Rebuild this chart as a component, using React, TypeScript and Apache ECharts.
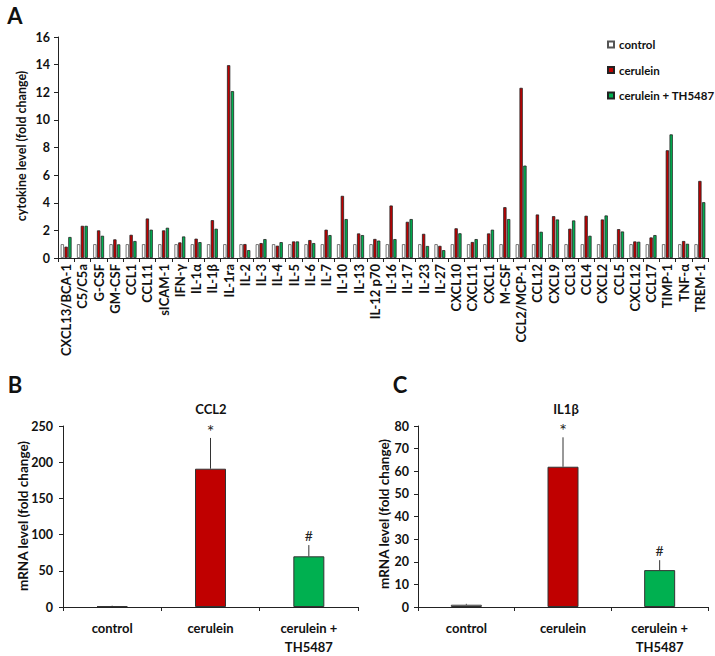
import React, { useEffect, useRef } from 'react';
import * as echarts from 'echarts';

const cytokines = [
  'CXCL13/BCA-1', 'C5/C5a', 'G-CSF', 'GM-CSF', 'CCL1', 'CCL11', 'sICAM-1', 'IFN-γ', 'IL-1α', 'IL-1β',
  'IL-1ra', 'IL-2', 'IL-3', 'IL-4', 'IL-5', 'IL-6', 'IL-7', 'IL-10', 'IL-13', 'IL-12 p70',
  'IL-16', 'IL-17', 'IL-23', 'IL-27', 'CXCL10', 'CXCL11', 'CXCL1', 'M-CSF', 'CCL2/MCP-1', 'CCL12',
  'CXCL9', 'CCL3', 'CCL4', 'CXCL2', 'CCL5', 'CXCL12', 'CCL17', 'TIMP-1', 'TNF-α', 'TREM-1',
];
const controlLevels = [
  1, 1, 1, 1, 1, 1, 1, 1, 1, 1,
  1, 1, 1, 1, 1, 1, 1, 1, 1, 1,
  1, 1, 1, 1, 1, 1, 1, 1, 1, 1,
  1, 1, 1, 1, 1, 1, 1, 1, 1, 1,
];
const ceruleinLevels = [
  0.82, 2.33, 2.0, 1.35, 1.68, 2.86, 2.0, 1.13, 1.4, 2.74,
  13.96, 1.01, 1.08, 0.89, 1.2, 1.3, 2.05, 4.5, 1.78, 1.38,
  3.8, 2.62, 1.75, 0.88, 2.15, 1.16, 1.78, 3.68, 12.32, 3.15,
  3.03, 2.12, 3.06, 2.79, 2.09, 1.2, 1.49, 7.8, 1.23, 5.58,
];
const th5487Levels = [
  1.52, 2.33, 1.61, 0.99, 1.23, 2.05, 2.19, 1.56, 1.15, 2.12,
  12.08, 0.57, 1.37, 1.15, 1.2, 1.08, 1.66, 2.82, 1.66, 1.26,
  1.37, 2.82, 0.87, 0.57, 1.79, 1.37, 2.05, 2.82, 6.69, 1.9,
  2.79, 2.72, 1.61, 3.08, 1.92, 1.18, 1.66, 8.95, 1.03, 4.04,
];
const seriesNames = ['control', 'cerulein', 'cerulein + TH5487'];

const groups = ['control', 'cerulein', 'cerulein +\nTH5487'];
const ccl2Means = [1, 191, 70];
const ccl2Errors = [0.8, 42.5, 15.5];
const ccl2Marks = ['', '*', '#'];
const il1bMeans = [1, 62, 16.3];
const il1bErrors = [0.4, 13, 4.4];
const il1bMarks = ['', '*', '#'];

const FONT = 'Lato, "Open Sans", sans-serif';
const RED = '#C00000';
const GREEN = '#00B050';
const WHITE = '#FFFFFF';
const AXIS = '#222222';
const groupColors = ['#F2F2F2', RED, GREEN];

function yAxisCfg(grid: number, max: number, interval: number, margin: number) {
  return {
    type: 'value', gridIndex: grid, min: 0, max, interval,
    axisLine: { show: true, lineStyle: { color: AXIS, width: 1 } },
    axisTick: { show: true, length: 4, lineStyle: { color: AXIS } },
    splitLine: { show: false },
    axisLabel: { fontFamily: FONT, fontWeight: 'bold', fontSize: 12.5, color: '#111', margin },
  };
}

function errorSeries(axisIndex: number, means: number[], errors: number[], marks: string[]) {
  return {
    type: 'custom',
    xAxisIndex: axisIndex,
    yAxisIndex: axisIndex,
    data: means.map((m, i) => [i, m, errors[i]]),
    encode: { x: 0, y: 1 },
    z: 5,
    renderItem: (params: any, api: any) => {
      const i = params.dataIndex;
      const m = api.value(1);
      const e = api.value(2);
      const p0 = api.coord([i, m]);
      const p1 = api.coord([i, m + e]);
      const children: any[] = [
        { type: 'line', shape: { x1: p0[0], y1: p0[1], x2: p1[0], y2: p1[1] }, style: { stroke: '#333', lineWidth: 1 } },
      ];
      const mark = marks[i];
      if (mark) {
        const star = mark === '*';
        children.push({
          type: 'text', x: p1[0], y: star ? p1[1] + 2 : p1[1] - 3,
          style: { text: mark, fontSize: star ? 18 : 14, fontFamily: FONT, fill: '#222', align: 'center', verticalAlign: 'bottom' },
        });
      }
      return { type: 'group', children };
    },
  };
}

function barSeries(axisIndex: number, means: number[]) {
  return {
    type: 'bar',
    name: 'panel' + axisIndex,
    xAxisIndex: axisIndex,
    yAxisIndex: axisIndex,
    barWidth: 31,
    data: means.map((v, i) => ({ value: v, itemStyle: { color: groupColors[i] } })),
    itemStyle: { borderColor: '#333', borderWidth: 1 },
  };
}

function textEl(text: string, x: number, y: number, size: number, extra: any = {}) {
  return {
    type: 'text', x, y, ...extra,
    style: { text, fontSize: size, fontWeight: 'bold', fontFamily: FONT, fill: '#111', align: 'center', verticalAlign: 'middle' },
  };
}

export default function App() {
  const ref = useRef<HTMLDivElement>(null);
  useEffect(() => {
    if (!ref.current) return;
    const chart = echarts.init(ref.current, undefined, { renderer: 'svg' });
    const catAxisBase = {
      type: 'category',
      axisLine: { show: true, lineStyle: { color: AXIS, width: 1 } },
      axisTick: { show: true, length: 4, interval: 0, lineStyle: { color: AXIS } },
    };
    const option: any = {
      animation: false,
      backgroundColor: '#fff',
      textStyle: { fontFamily: FONT },
      grid: [
        { left: 58, top: 37, width: 650, height: 221 },
        { left: 63, top: 426, width: 295, height: 182 },
        { left: 418, top: 426, width: 290, height: 183 },
      ],
      xAxis: [
        {
          ...catAxisBase, gridIndex: 0, data: cytokines,
          axisLabel: { interval: 0, rotate: 90, fontFamily: FONT, fontWeight: 'bold', fontSize: 13, color: '#111', margin: 6 },
        },
        {
          ...catAxisBase, gridIndex: 1, data: groups,
          axisLabel: { interval: 0, fontFamily: FONT, fontWeight: 'bold', fontSize: 13, lineHeight: 19, color: '#111', margin: 11 },
        },
        {
          ...catAxisBase, gridIndex: 2, data: groups,
          axisLabel: { interval: 0, fontFamily: FONT, fontWeight: 'bold', fontSize: 13, lineHeight: 19, color: '#111', margin: 11 },
        },
      ],
      yAxis: [
        yAxisCfg(0, 16, 2, 8),
        yAxisCfg(1, 250, 50, 10),
        yAxisCfg(2, 80, 10, 9),
      ],
      legend: {
        data: seriesNames,
        orient: 'vertical',
        left: 602,
        top: 33,
        itemWidth: 6,
        itemHeight: 6,
        itemGap: 12.5,
        icon: 'rect',
        textStyle: { fontFamily: FONT, fontWeight: 'bold', fontSize: 11.5, lineHeight: 13, color: '#111' },
      },
      series: [
        {
          type: 'bar', name: seriesNames[0], data: controlLevels, xAxisIndex: 0, yAxisIndex: 0,
          barWidth: 3.3, barGap: '15%',
          itemStyle: { color: WHITE, borderColor: '#555', borderWidth: 0.8 },
        },
        {
          type: 'bar', name: seriesNames[1], data: ceruleinLevels, xAxisIndex: 0, yAxisIndex: 0,
          barWidth: 3.3, barGap: '15%',
          itemStyle: { color: RED, borderColor: '#222', borderWidth: 0.8 },
        },
        {
          type: 'bar', name: seriesNames[2], data: th5487Levels, xAxisIndex: 0, yAxisIndex: 0,
          barWidth: 3.3, barGap: '15%',
          itemStyle: { color: GREEN, borderColor: '#222', borderWidth: 0.8 },
        },
        barSeries(1, ccl2Means),
        errorSeries(1, ccl2Means, ccl2Errors, ccl2Marks),
        barSeries(2, il1bMeans),
        errorSeries(2, il1bMeans, il1bErrors, il1bMarks),
      ],
      graphic: [
        textEl('A', 15, 15, 22),
        textEl('B', 15, 384, 22),
        textEl('C', 400, 384, 22),
        textEl('cytokine level (fold change)', 21, 146, 12.5, { rotation: Math.PI / 2 }),
        textEl('mRNA level (fold change)', 23, 516, 13.5, { rotation: Math.PI / 2 }),
        textEl('mRNA level (fold change)', 384, 514, 13.5, { rotation: Math.PI / 2 }),
        textEl('CCL2', 211, 409, 13),
        textEl('IL1β', 566, 409, 13),
      ],
    };
    chart.setOption(option);
    return () => chart.dispose();
  }, []);
  return <div ref={ref} style={{ position: 'absolute', left: 0, top: 0, width: 715, height: 656 }} />;
}
